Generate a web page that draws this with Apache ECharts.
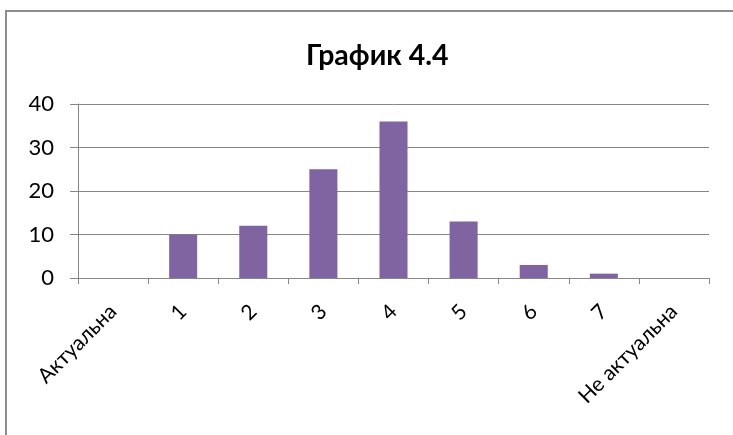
<!DOCTYPE html>
<html>
<head>
<meta charset="utf-8">
<script src="https://cdn.jsdelivr.net/npm/echarts@6/dist/echarts.min.js"></script>
<style>
  html, body { margin: 0; padding: 0; background: #fff; }
  #chart { width: 733px; height: 435px; }
</style>
</head>
<body>
<div id="chart"></div>
<script>
// Answer categories along the horizontal axis
const categories = ['Актуальна', '1', '2', '3', '4', '5', '6', '7', 'Не актуальна'];
// Number of responses per category
const counts = [0, 10, 12, 25, 36, 13, 3, 1, 0];
// Value axis range
const yMin = 0;
const yMax = 40;
const yStep = 10;

const FONT = 'Lato, "Noto Sans", sans-serif';
const GRAY = '#868686';

const chart = echarts.init(document.getElementById('chart'), null, { renderer: 'canvas' });
chart.setOption({
  animation: false,
  backgroundColor: '#ffffff',
  title: {
    text: 'График 4.4',
    left: 301,
    top: 36,
    textStyle: { fontFamily: FONT, fontWeight: 'bold', fontSize: 28.5, color: '#000' }
  },
  graphic: [{
    type: 'rect',
    shape: { x: 6, y: 11, width: 800, height: 500 },
    style: { fill: 'none', stroke: '#8c8c8c', lineWidth: 2 },
    silent: true
  }],
  grid: { left: 78, right: 24, top: 104, bottom: 157, containLabel: false },
  xAxis: {
    type: 'category',
    data: categories,
    boundaryGap: true,
    axisLine: { lineStyle: { color: GRAY, width: 1 } },
    axisTick: { show: true, length: 6, lineStyle: { color: GRAY } },
    axisLabel: {
      rotate: 45,
      interval: 0,
      margin: 30,
      fontFamily: FONT,
      fontSize: 21,
      color: '#000'
    }
  },
  yAxis: {
    type: 'value',
    min: yMin,
    max: yMax,
    interval: yStep,
    axisLine: { show: true, lineStyle: { color: GRAY, width: 1 } },
    axisTick: { show: true, length: 8, lineStyle: { color: GRAY } },
    splitLine: { show: true, lineStyle: { color: GRAY, width: 1 } },
    axisLabel: { margin: 24, fontFamily: FONT, fontSize: 22, color: '#000' }
  },
  series: [{
    type: 'bar',
    data: counts,
    barWidth: '40%',
    itemStyle: { color: '#8064A2' }
  }]
});
</script>
</body>
</html>
